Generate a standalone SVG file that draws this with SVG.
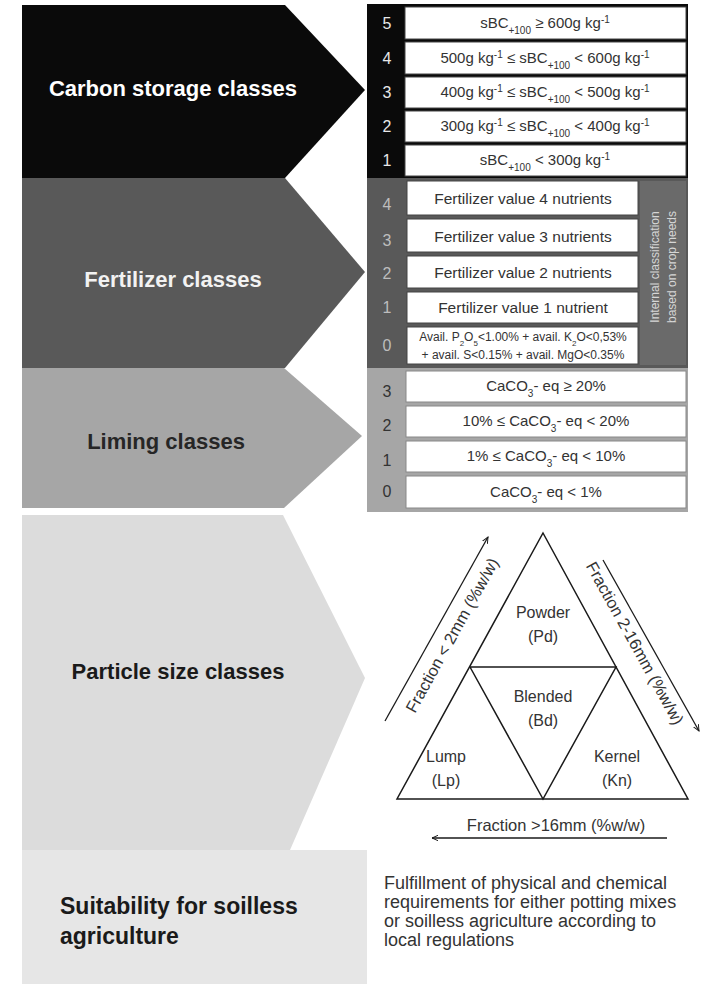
<svg xmlns="http://www.w3.org/2000/svg" width="701" height="987" viewBox="0 0 701 987">
<defs>
<marker id="arr" viewBox="0 0 10 10" refX="9" refY="5" markerWidth="7" markerHeight="7" orient="auto-start-reverse" markerUnits="userSpaceOnUse">
<path d="M0,1 L9,5 L0,9" fill="none" stroke="#1a1a1a" stroke-width="1.4"/>
</marker>
</defs>
<style>
text{font-family:"Liberation Sans",Arial,sans-serif}
.lbl{font-size:22px;font-weight:bold}
.cell{fill:#fff;stroke:#444;stroke-width:1}
.ct{font-size:15px;fill:#333;text-anchor:middle}
.num{font-size:16px;text-anchor:middle}
.tri{fill:none;stroke:#1a1a1a;stroke-width:1.5}
.tl{font-size:16px;fill:#333;text-anchor:middle}
.ax{font-size:16.5px;fill:#333;text-anchor:middle}
.para{font-size:18px;fill:#333}
.sup{font-size:10px}
</style>
<rect width="701" height="987" fill="#fff"/>

<g id="carbon">
<polygon points="22,5 285,5 365,90 285,178 22,178" fill="#0a0a0a"/>
<text class="lbl" x="173" y="96" fill="#fff" text-anchor="middle">Carbon storage classes</text>
<rect x="367" y="4" width="321" height="174" fill="#0a0a0a"/>
<rect class="cell" x="405" y="7" width="281" height="32"/>
<rect class="cell" x="405" y="42" width="281" height="32"/>
<rect class="cell" x="405" y="77" width="281" height="31"/>
<rect class="cell" x="405" y="111" width="281" height="31"/>
<rect class="cell" x="405" y="145" width="281" height="31"/>
<text class="num" x="387" y="29" fill="#e8e8e8">5</text>
<text class="num" x="387" y="64" fill="#e8e8e8">4</text>
<text class="num" x="387" y="98" fill="#e8e8e8">3</text>
<text class="num" x="387" y="132" fill="#e8e8e8">2</text>
<text class="num" x="387" y="166" fill="#e8e8e8">1</text>
<text class="ct" x="545" y="28">sBC<tspan class="sup" baseline-shift="sub">+100</tspan> ≥ 600g kg<tspan class="sup" baseline-shift="super">-1</tspan></text>
<text class="ct" x="545" y="63">500g kg<tspan class="sup" baseline-shift="super">-1</tspan> ≤ sBC<tspan class="sup" baseline-shift="sub">+100</tspan> &lt; 600g kg<tspan class="sup" baseline-shift="super">-1</tspan></text>
<text class="ct" x="545" y="97">400g kg<tspan class="sup" baseline-shift="super">-1</tspan> ≤ sBC<tspan class="sup" baseline-shift="sub">+100</tspan> &lt; 500g kg<tspan class="sup" baseline-shift="super">-1</tspan></text>
<text class="ct" x="545" y="131">300g kg<tspan class="sup" baseline-shift="super">-1</tspan> ≤ sBC<tspan class="sup" baseline-shift="sub">+100</tspan> &lt; 400g kg<tspan class="sup" baseline-shift="super">-1</tspan></text>
<text class="ct" x="545" y="165">sBC<tspan class="sup" baseline-shift="sub">+100</tspan> &lt; 300g kg<tspan class="sup" baseline-shift="super">-1</tspan></text>
</g>

<g id="fertilizer">
<polygon points="22,178 285,178 365,272 285,368 22,368" fill="#595959"/>
<text class="lbl" x="173" y="287" fill="#f2f2f2" text-anchor="middle">Fertilizer classes</text>
<rect x="367" y="178" width="321" height="190" fill="#595959"/>
<rect x="640" y="181" width="46" height="184" fill="#6a6a6a"/>
<rect class="cell" x="407" y="181" width="231" height="34"/>
<rect class="cell" x="407" y="219" width="231" height="33"/>
<rect class="cell" x="407" y="256" width="231" height="32"/>
<rect class="cell" x="407" y="292" width="231" height="31"/>
<rect class="cell" x="407" y="327" width="231" height="37"/>
<text class="num" x="387" y="210" fill="#bdbdbd">4</text>
<text class="num" x="387" y="246" fill="#bdbdbd">3</text>
<text class="num" x="387" y="279" fill="#bdbdbd">2</text>
<text class="num" x="387" y="313" fill="#bdbdbd">1</text>
<text class="num" x="387" y="351" fill="#bdbdbd">0</text>
<text class="ct" x="523" y="204" style="font-size:15.5px">Fertilizer value 4 nutrients</text>
<text class="ct" x="523" y="242" style="font-size:15.5px">Fertilizer value 3 nutrients</text>
<text class="ct" x="523" y="278" style="font-size:15.5px">Fertilizer value 2 nutrients</text>
<text class="ct" x="523" y="313" style="font-size:15.5px">Fertilizer value 1 nutrient</text>
<text class="ct" x="523" y="341" style="font-size:12px">Avail. P<tspan style="font-size:8px" baseline-shift="sub">2</tspan>O<tspan style="font-size:8px" baseline-shift="sub">5</tspan>&lt;1.00% + avail. K<tspan style="font-size:8px" baseline-shift="sub">2</tspan>O&lt;0,53%</text>
<text class="ct" x="523" y="359" style="font-size:12px">+ avail. S&lt;0.15% + avail. MgO&lt;0.35%</text>
<text x="0" y="0" transform="translate(659,267) rotate(-90)" text-anchor="middle" font-size="12" fill="#d6d6d6">Internal classification</text>
<text x="0" y="0" transform="translate(676,267) rotate(-90)" text-anchor="middle" font-size="12" fill="#d6d6d6">based on crop needs</text>
</g>

<g id="liming">
<polygon points="22,368 284,368 362,436 284,508 22,508" fill="#a6a6a6"/>
<text class="lbl" x="166" y="449" fill="#262626" text-anchor="middle">Liming classes</text>
<rect x="367" y="368" width="321" height="144" fill="#a6a6a6"/>
<rect class="cell" x="406" y="371" width="280" height="31" style="stroke:#888"/>
<rect class="cell" x="406" y="406" width="280" height="31" style="stroke:#888"/>
<rect class="cell" x="406" y="441" width="280" height="31" style="stroke:#888"/>
<rect class="cell" x="406" y="476" width="280" height="32" style="stroke:#888"/>
<text class="num" x="387" y="397" fill="#333">3</text>
<text class="num" x="387" y="431" fill="#333">2</text>
<text class="num" x="387" y="466" fill="#333">1</text>
<text class="num" x="387" y="497" fill="#333">0</text>
<text class="ct" x="546" y="391">CaCO<tspan class="sup" baseline-shift="sub">3</tspan>- eq ≥ 20%</text>
<text class="ct" x="546" y="426">10% ≤ CaCO<tspan class="sup" baseline-shift="sub">3</tspan>- eq &lt; 20%</text>
<text class="ct" x="546" y="461">1% ≤ CaCO<tspan class="sup" baseline-shift="sub">3</tspan>- eq &lt; 10%</text>
<text class="ct" x="546" y="497">CaCO<tspan class="sup" baseline-shift="sub">3</tspan>- eq &lt; 1%</text>
</g>

<g id="particle">
<polygon points="22,515 283,515 365,678 290,850 22,850" fill="#dcdcdc"/>
<text class="lbl" x="178" y="679" fill="#1a1a1a" text-anchor="middle">Particle size classes</text>
<polygon class="tri" points="543,533 688,799 397,799"/>
<polyline class="tri" points="470,667 616,667 543,799 470,667"/>
<text class="tl" x="543" y="618">Powder</text>
<text class="tl" x="543" y="642">(Pd)</text>
<text class="tl" x="543" y="702">Blended</text>
<text class="tl" x="543" y="726">(Bd)</text>
<text class="tl" x="446" y="762">Lump</text>
<text class="tl" x="446" y="786">(Lp)</text>
<text class="tl" x="617" y="762">Kernel</text>
<text class="tl" x="617" y="786">(Kn)</text>
</g>

<g id="connectors">
<line x1="385" y1="721" x2="488" y2="537" stroke="#1a1a1a" stroke-width="1.3" marker-end="url(#arr)"/>
<line x1="603" y1="560" x2="699" y2="731" stroke="#1a1a1a" stroke-width="1.3" marker-end="url(#arr)"/>
<line x1="667" y1="838" x2="432" y2="838" stroke="#1a1a1a" stroke-width="1.3" marker-end="url(#arr)"/>
<text class="ax" transform="translate(457,638) rotate(-61)">Fraction &lt; 2mm (%w/w)</text>
<text class="ax" transform="translate(630,646) rotate(61)">Fraction 2-16mm (%w/w)</text>
<text class="ax" x="556" y="831">Fraction &gt;16mm (%w/w)</text>
</g>

<g id="suitability">
<rect x="22" y="850" width="345" height="134" fill="#e6e6e6"/>
<text class="lbl" x="60" y="914" fill="#1a1a1a" style="font-size:23px">Suitability for soilless</text>
<text class="lbl" x="60" y="944" fill="#1a1a1a" style="font-size:23px">agriculture</text>
<text class="para" x="384" y="889">Fulfillment of physical and chemical</text>
<text class="para" x="384" y="908">requirements for either potting mixes</text>
<text class="para" x="384" y="927">or soilless agriculture according to</text>
<text class="para" x="384" y="946">local regulations</text>
</g>
</svg>
